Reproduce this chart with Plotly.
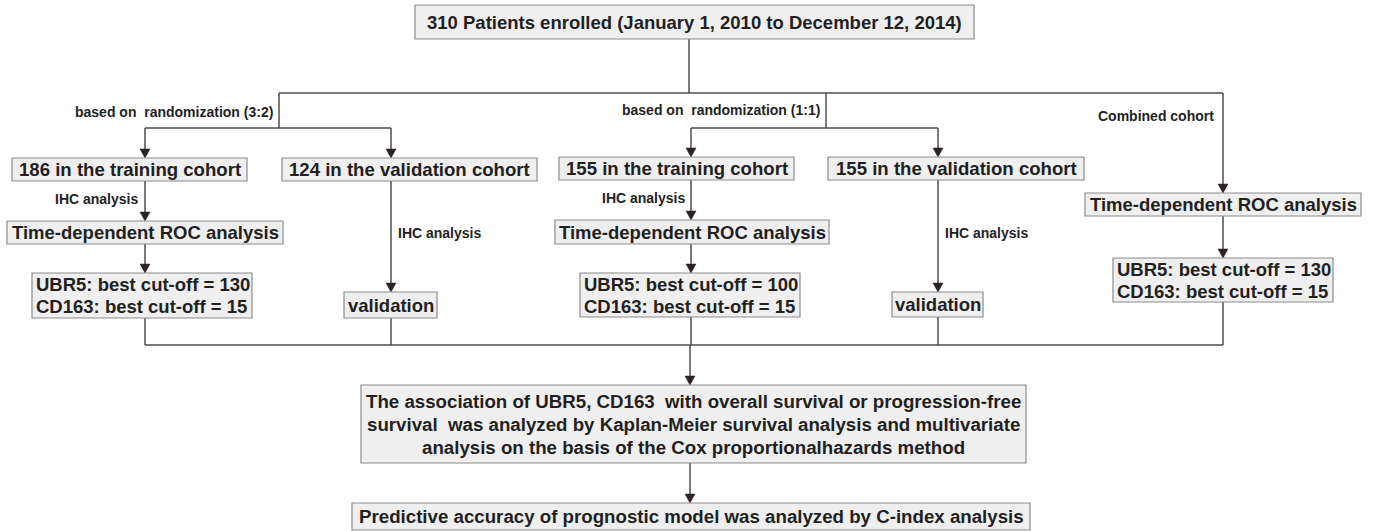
import plotly.graph_objects as go

# ---------------- data (texts / values) ----------------
cohort_sizes = [310, 186, 124, 155, 155]
enroll_start = "January 1, 2010"
enroll_end = "December 12, 2014"
ubr5_cutoffs = [130, 100, 130]
cd163_cutoffs = [15, 15, 15]
split_labels = ["based on\u00a0 randomization (3:2)", "based on\u00a0 randomization (1:1)", "Combined cohort"]
step_label = "IHC analysis"
roc_label = "Time-dependent ROC analysis"
valid_label = "validation"
assoc_lines = [
    "The association of UBR5, CD163\u00a0 with overall survival or progression-free",
    "survival\u00a0 was analyzed by Kaplan-Meier survival analysis and multivariate",
    "analysis on the basis of the Cox proportionalhazards method",
]
final_line = "Predictive accuracy of prognostic model was analyzed by C-index analysis"

# ---------------- layout geometry (pixels) ----------------
W, H = 1376, 531
FONT = "Liberation Sans, Arial, Helvetica, sans-serif"
TXT = "#231f1f"
LINE = "#4d4d4d"
BOX_FILL = "#efefef"
BOX_LINE = "#8c8c8c"

def cut_lines(i):
    return [f"UBR5: best cut-off = {ubr5_cutoffs[i]}", f"CD163: best cut-off = {cd163_cutoffs[i]}"]

# node: (lines, x0, x1, y0, y1, align, line_gap, font size)
nodes = [
    ([f"{cohort_sizes[0]} Patients enrolled ({enroll_start} to {enroll_end})"], 415, 974, 5, 39, "center", 0, 18.5),
    ([f"{cohort_sizes[1]} in the training cohort"], 12, 247, 158, 181, "center", 0, 18.6),
    ([f"{cohort_sizes[2]} in the validation cohort"], 282, 537, 158, 181, "center", 0, 18.6),
    ([f"{cohort_sizes[3]} in the training cohort"], 559, 794, 157, 180, "center", 0, 18.6),
    ([f"{cohort_sizes[4]} in the validation cohort"], 828, 1084, 157, 180, "center", 0, 18.6),
    ([roc_label], 7, 283, 221, 244, "center", 0, 18.5),
    ([roc_label], 555, 829, 220, 244, "center", 0, 18.5),
    ([roc_label], 1085, 1361, 193, 216, "center", 0, 18.5),
    (cut_lines(0), 32, 252, 273, 318, "left", 22, 18.5),
    ([valid_label], 344, 437, 292, 318, "center", 0, 18.5),
    (cut_lines(1), 580, 800, 273, 317, "left", 22, 18.5),
    ([valid_label], 892, 983, 292, 317, "center", 0, 18.5),
    (cut_lines(2), 1113, 1333, 258, 302, "left", 22, 18.5),
    (assoc_lines, 361, 1026, 385, 463, "center", 23, 18.7),
    ([final_line], 352, 1030, 503, 530, "center", 0, 18.7),
]

# plain connector segments (x0, y0, x1, y1)
segments = [
    (689, 39, 689, 93), (279, 93, 1223, 93),
    (279, 93, 279, 128), (145, 128, 391, 128),
    (826, 93, 826, 128), (691, 128, 938, 128),
    (145, 318, 145, 345), (391, 318, 391, 345), (691, 317, 691, 345),
    (938, 317, 938, 345), (1223, 302, 1223, 345),
    (145, 345, 1223, 345),
]
# arrows (x, y_start, y_tip)
arrows = [
    (145, 128, 158), (391, 128, 158), (691, 128, 157), (938, 128, 157),
    (1223, 93, 193),
    (145, 181, 221), (145, 244, 273),
    (391, 181, 292),
    (691, 180, 220), (691, 244, 273),
    (938, 180, 292),
    (1223, 216, 258),
    (690, 345, 385), (690, 463, 503),
]
# small labels: (text, x, y, anchor)
labels = [
    (split_labels[0], 275, 112, "right"),
    (split_labels[1], 822, 110, "right"),
    (split_labels[2], 1216, 116, "right"),
    (step_label, 140, 199, "right"),
    (step_label, 396, 233, "left"),
    (step_label, 687, 198, "right"),
    (step_label, 943, 233, "left"),
]

fig = go.Figure()
shapes = []
annotations = []

for (x0, y0, x1, y1) in segments:
    shapes.append(dict(type="line", xref="x", yref="y", x0=x0, y0=y0, x1=x1, y1=y1,
                       line=dict(color=LINE, width=1.5), layer="below"))

AH_W, AH_H = 5, 9
for (x, ys, yt) in arrows:
    shapes.append(dict(type="line", xref="x", yref="y", x0=x, y0=ys, x1=x, y1=yt - AH_H + 1,
                       line=dict(color=LINE, width=1.5), layer="below"))
    shapes.append(dict(type="path", xref="x", yref="y",
                       path=f"M {x} {yt} L {x - AH_W} {yt - AH_H} L {x + AH_W} {yt - AH_H} Z",
                       fillcolor="#2b2222", line=dict(color="#2b2222", width=0.5)))

for (lines, x0, x1, y0, y1, align, gap, fs) in nodes:
    shapes.append(dict(type="rect", xref="x", yref="y", x0=x0, y0=y0, x1=x1, y1=y1,
                       fillcolor=BOX_FILL, line=dict(color=BOX_LINE, width=1.2)))
    n = len(lines)
    yc = (y0 + y1) / 2
    for k, t in enumerate(lines):
        yy = yc + (k - (n - 1) / 2) * gap
        if align == "left":
            xx, xa = x0 + 2, "left"
        else:
            xx, xa = (x0 + x1) / 2, "center"
        annotations.append(dict(x=xx, y=yy, xref="x", yref="y", text=t, showarrow=False,
                                xanchor=xa, yanchor="middle",
                                font=dict(family=FONT, size=fs, color=TXT, weight="bold")))

for (t, x, y, anc) in labels:
    annotations.append(dict(x=x, y=y, xref="x", yref="y", text=t, showarrow=False,
                            xanchor=anc, yanchor="middle",
                            font=dict(family=FONT, size=14, color=TXT, weight="bold")))

fig.update_layout(
    width=W, height=H,
    margin=dict(l=0, r=0, t=0, b=0),
    paper_bgcolor="white", plot_bgcolor="white",
    xaxis=dict(range=[0, W], visible=False, fixedrange=True),
    yaxis=dict(range=[H, 0], visible=False, fixedrange=True),
    shapes=shapes, annotations=annotations, showlegend=False,
)

fig.write_html("out.html", post_script="document.body.style.margin='0';document.body.style.overflow='hidden';",
               config={"displayModeBar": False})
